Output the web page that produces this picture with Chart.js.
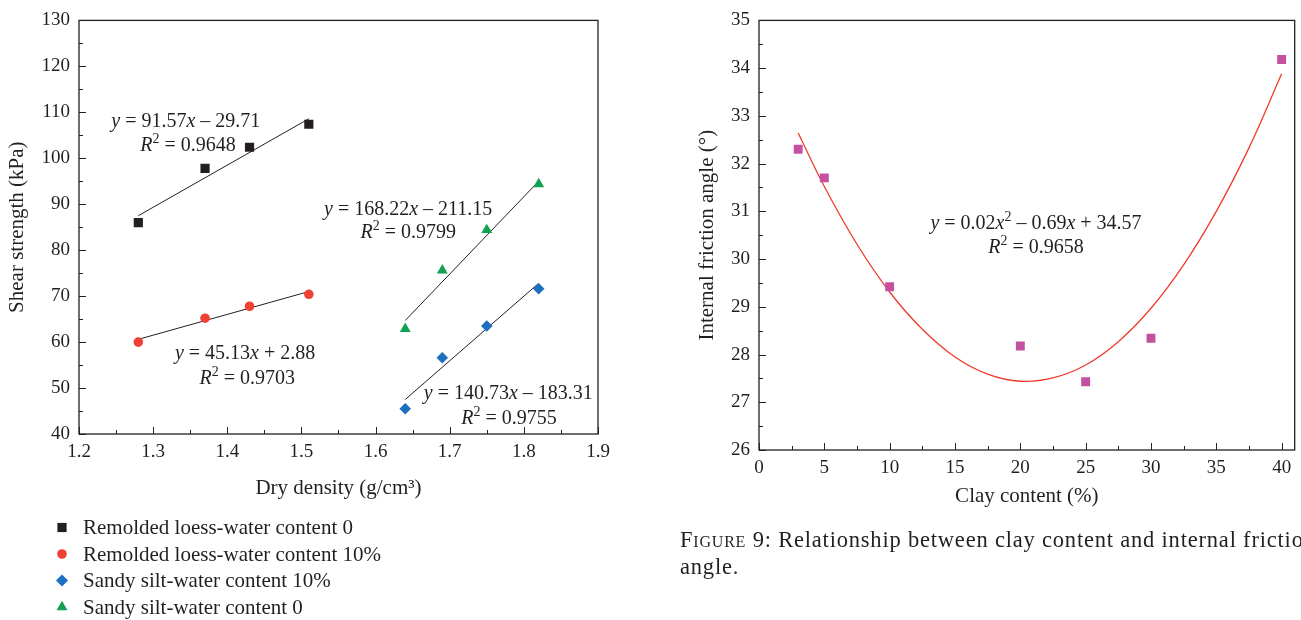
<!DOCTYPE html>
<html lang="en">
<head>
<meta charset="UTF-8">
<title>Shear strength and internal friction angle</title>
<script src="https://cdn.jsdelivr.net/npm/chart.js"></script>
<style>
  body { margin: 0; width: 1301px; height: 620px; overflow: hidden; background: #fff; position: relative; }
  canvas { position: absolute; top: 0; }
  #shear { left: 0; }
  #friction { left: 660px; }
  .caption { position: absolute; left: 680px; top: 526px; font: 22.5px 'Liberation Serif', serif; letter-spacing: 0.8px; line-height: 27px; color: #231f20; white-space: nowrap; }
  .caption .sc { font-variant: small-caps; }
</style>
</head>
<body>
<canvas id="shear" width="640" height="620"></canvas>
<canvas id="friction" width="641" height="620"></canvas>
<div class="caption"><span class="sc">Figure</span> 9: Relationship between clay content and internal friction<br>angle.</div>

<script>
// ---- shear strength vs dry density ----
const seriesNames = [
  'Remolded loess-water content 0',
  'Remolded loess-water content 10%',
  'Sandy silt-water content 10%',
  'Sandy silt-water content 0'
];
const densityLoess = [1.28, 1.37, 1.43, 1.51];
const loessDry = [86.0, 97.8, 102.4, 107.4];
const loessWet = [60.0, 65.2, 67.8, 70.4];
const densitySilt = [1.64, 1.69, 1.75, 1.82];
const siltWet = [45.5, 56.6, 63.5, 71.6];
const siltDry = [62.9, 75.6, 84.4, 94.4];

// end points of the linear fits
const fitLoessX = [1.28, 1.51];
const fitLoessDry = [87.5, 108.6];
const fitLoessWet = [60.6, 71.0];
const fitSiltX = [1.64, 1.82];
const fitSiltWet = [47.5, 72.8];
const fitSiltDry = [64.7, 95.0];

const fitEquations = ['*y* = 91.57*x* – 29.71', '*y* = 45.13*x* + 2.88', '*y* = 168.22*x* – 211.15', '*y* = 140.73*x* – 183.31'];
const fitR2 = ['*R*^2^ = 0.9648', '*R*^2^ = 0.9703', '*R*^2^ = 0.9799', '*R*^2^ = 0.9755'];

// ---- internal friction angle vs clay content ----
const clayContent = [3, 5, 10, 20, 25, 30, 40];
const frictionAngle = [32.3, 31.7, 29.42, 28.18, 27.43, 28.34, 34.18];
const curveX = [3, 5, 7.5, 10, 12.5, 15, 17.5, 20, 22.5, 25, 27.5, 30, 32.5, 35, 37.5, 40];
const curveY = [32.64, 31.52, 30.31, 29.31, 28.53, 27.95, 27.59, 27.44, 27.51, 27.78, 28.27, 28.97, 29.88, 31.00, 32.33, 33.88];
const curveEquation = '*y* = 0.02*x*^2^ – 0.69*x* + 34.57';
const curveR2 = '*R*^2^ = 0.9658';

const INK = '#231f20';
const SERIF = "'Liberation Serif', 'Times New Roman', serif";
Chart.defaults.font.family = SERIF;
Chart.defaults.color = INK;

const pts = (xs, ys) => xs.map((x, i) => ({ x: x, y: ys[i] }));

function fitLine(xs, ys, color) {
  return {
    type: 'line', data: pts(xs, ys), borderColor: color || INK, borderWidth: 1,
    pointRadius: 0, fill: false, inLegend: false, order: 2
  };
}

function markers(label, xs, ys, color, style, radius) {
  return {
    label: label, data: pts(xs, ys), backgroundColor: color, borderWidth: 0,
    pointStyle: style, pointRadius: radius, pointHoverRadius: radius, inLegend: true, order: 1
  };
}

// '*x*' = italic, '^2^' = superscript
function parseRich(str) {
  return str.split(/(\*[^*]+\*|\^[^^]+\^)/).filter(Boolean).map(p => {
    if (p[0] === '*') return { t: p.slice(1, -1), i: true };
    if (p[0] === '^') return { t: p.slice(1, -1), sup: true };
    return { t: p };
  });
}

function drawRich(ctx, str, cx, cy, size) {
  const segs = parseRich(str);
  const fontFor = s => (s.i ? 'italic ' : '') + (s.sup ? Math.round(size * 0.72) : size) + 'px ' + SERIF;
  let w = 0;
  segs.forEach(s => { ctx.font = fontFor(s); s.w = ctx.measureText(s.t).width; w += s.w; });
  let x = cx - w / 2;
  ctx.textAlign = 'left';
  ctx.textBaseline = 'alphabetic';
  segs.forEach(s => {
    ctx.font = fontFor(s);
    ctx.fillText(s.t, x, cy + size * 0.33 - (s.sup ? size * 0.4 : 0));
    x += s.w;
  });
}

function shape(ctx, style, r, x, y) {
  if (Chart.helpers && Chart.helpers.drawPoint) {
    Chart.helpers.drawPoint(ctx, { pointStyle: style, radius: r, rotation: 0, borderWidth: 0 }, x, y);
  }
}

// closed box with inward major/minor tick marks
const axisFrame = {
  id: 'axisFrame',
  afterDraw(chart) {
    const { ctx, chartArea: a, scales } = chart;
    ctx.save();
    ctx.strokeStyle = INK;
    ctx.lineWidth = 1.3;
    ctx.strokeRect(a.left, a.top, a.right - a.left, a.bottom - a.top);
    ctx.lineWidth = 1;
    ['x', 'y'].forEach(id => {
      const s = scales[id];
      const major = s.ticks.map(t => t.value);
      const minor = [];
      for (let i = 1; i < major.length; i++) minor.push((major[i - 1] + major[i]) / 2);
      const mark = (v, len) => {
        const p = Math.round(s.getPixelForValue(v)) + 0.5;
        ctx.beginPath();
        if (id === 'x') { ctx.moveTo(p, a.bottom); ctx.lineTo(p, a.bottom - len); }
        else { ctx.moveTo(a.left, p); ctx.lineTo(a.left + len, p); }
        ctx.stroke();
      };
      major.forEach(v => mark(v, 7));
      minor.forEach(v => mark(v, 4));
    });
    ctx.restore();
  }
};

// equation labels placed in data units
const fitNotes = {
  id: 'fitNotes',
  afterDraw(chart, args, opts) {
    const { ctx, scales: { x, y } } = chart;
    ctx.save();
    ctx.fillStyle = INK;
    (opts.items || []).forEach(n => {
      drawRich(ctx, n.text, x.getPixelForValue(n.x), y.getPixelForValue(n.y), opts.size || 20);
    });
    ctx.restore();
  }
};

// one legend entry per row under the plot
const stackLegend = {
  id: 'stackLegend',
  afterDraw(chart, args, opts) {
    if (!opts.top) return;
    const ctx = chart.ctx;
    ctx.save();
    chart.data.datasets.filter(d => d.inLegend).forEach((d, i) => {
      const cy = opts.top + i * opts.gap;
      ctx.fillStyle = d.backgroundColor;
      shape(ctx, d.pointStyle, opts.marker[i], opts.markerX, cy);
      ctx.fillStyle = INK;
      ctx.font = opts.size + 'px ' + SERIF;
      ctx.textAlign = 'left';
      ctx.textBaseline = 'middle';
      ctx.fillText(d.label, opts.textX, cy + 1);
    });
    ctx.restore();
  }
};

const tickFont = { size: 19 };
const titleFont = { size: 21 };
const noGrid = { display: false, drawTicks: false };

new Chart(document.getElementById('shear'), {
  type: 'scatter',
  data: {
    datasets: [
      markers(seriesNames[0], densityLoess, loessDry, INK, 'rect', 6.5),
      markers(seriesNames[1], densityLoess, loessWet, '#ef4134', 'circle', 4.8),
      markers(seriesNames[2], densitySilt, siltWet, '#1d6fbf', 'rectRot', 5.8),
      markers(seriesNames[3], densitySilt, siltDry, '#10a152', 'triangle', 6.3),
      fitLine(fitLoessX, fitLoessDry),
      fitLine(fitLoessX, fitLoessWet),
      fitLine(fitSiltX, fitSiltWet),
      fitLine(fitSiltX, fitSiltDry)
    ]
  },
  options: {
    responsive: false,
    animation: false,
    layout: { padding: { left: 0, top: 17, right: 42, bottom: 119 } },
    scales: {
      x: {
        type: 'linear', min: 1.2, max: 1.9,
        ticks: { stepSize: 0.1, padding: 7, font: tickFont, callback: v => v.toFixed(1) },
        grid: noGrid, border: { display: false },
        title: { display: true, text: 'Dry density (g/cm³)', font: titleFont, padding: { top: 0, bottom: 0 } },
        afterFit: s => { s.height = 67; }
      },
      y: {
        min: 40, max: 130,
        ticks: { stepSize: 10, padding: 9, font: tickFont },
        grid: noGrid, border: { display: false },
        title: { display: true, text: 'Shear strength (kPa)', font: titleFont, padding: { top: 5, bottom: 0 } },
        afterFit: s => { s.width = 79; }
      }
    },
    plugins: {
      legend: { display: false },
      tooltip: { enabled: false },
      fitNotes: {
        size: 20,
        items: [
          { text: fitEquations[0], x: 1.344, y: 108.3 },
          { text: fitR2[0], x: 1.347, y: 103.0 },
          { text: fitEquations[1], x: 1.424, y: 57.7 },
          { text: fitR2[1], x: 1.427, y: 52.3 },
          { text: fitEquations[2], x: 1.644, y: 89.1 },
          { text: fitR2[2], x: 1.644, y: 84.0 },
          { text: fitEquations[3], x: 1.779, y: 49.1 },
          { text: fitR2[3], x: 1.780, y: 43.7 }
        ]
      },
      stackLegend: { top: 527.5, gap: 26.5, markerX: 62, textX: 83, size: 21, marker: [6.5, 4.8, 6, 6.3] }
    }
  },
  plugins: [axisFrame, fitNotes, stackLegend]
});

new Chart(document.getElementById('friction'), {
  type: 'scatter',
  data: {
    datasets: [
      markers('Internal friction angle', clayContent, frictionAngle, '#c451a0', 'rect', 6.3),
      {
        type: 'line', data: pts(curveX, curveY), borderColor: '#ef3b2c', borderWidth: 1.3,
        pointRadius: 0, fill: false, tension: 0.4, inLegend: false, order: 2
      }
    ]
  },
  options: {
    responsive: false,
    animation: false,
    layout: { padding: { left: 0, top: 17, right: 5, bottom: 111 } },
    scales: {
      x: {
        type: 'linear', min: 0, max: 41,
        ticks: { stepSize: 5, includeBounds: false, padding: 7, font: tickFont },
        grid: noGrid, border: { display: false },
        title: { display: true, text: 'Clay content (%)', font: titleFont, padding: { top: 0, bottom: 0 } },
        afterFit: s => { s.height = 59; }
      },
      y: {
        min: 26, max: 35,
        ticks: { stepSize: 1, padding: 9, font: tickFont },
        grid: noGrid, border: { display: false },
        title: { display: true, text: 'Internal friction angle (°)', font: titleFont, padding: { top: 35, bottom: 0 } },
        afterFit: s => { s.width = 99; }
      }
    },
    plugins: {
      legend: { display: false },
      tooltip: { enabled: false },
      fitNotes: {
        size: 20,
        items: [
          { text: curveEquation, x: 21.2, y: 30.76 },
          { text: curveR2, x: 21.2, y: 30.26 }
        ]
      }
    }
  },
  plugins: [axisFrame, fitNotes]
});
</script>
</body>
</html>
